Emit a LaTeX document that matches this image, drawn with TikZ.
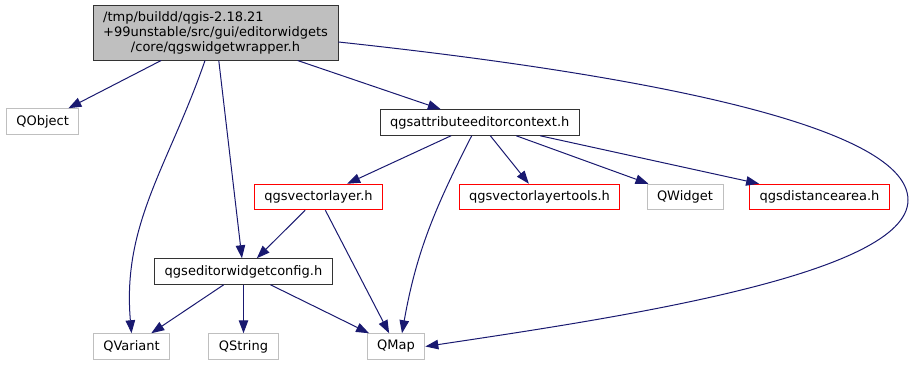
\documentclass[tikz,border=0pt]{standalone}
\usepackage{fontspec}
\setmainfont{DejaVu Sans}
\usepackage{xcolor}
\usetikzlibrary{arrows.meta}

\definecolor{edgeblue}{HTML}{191970}
\definecolor{boxgray}{HTML}{BFBFBF}
\definecolor{boxred}{HTML}{FF0000}

\begin{document}
\begin{tikzpicture}[x=1pt, y=1pt,
        font=\fontsize{13}{15}\selectfont,
        file/.style={rectangle, line width=1pt, inner xsep=10pt, inner ysep=3pt, minimum height=25.5pt},
        known/.style={file, draw=black!80},
        missing/.style={file, draw=boxred},
        external/.style={file, draw=boxgray},
        dep/.style={->, draw=edgeblue, line width=1pt},
        >={Triangle[length=13pt, width=9.5pt]}]
    \useasboundingbox (0, 0) rectangle (915, -365);

    % the header the graph starts from
    \node[file, draw=black!80, fill=boxgray, align=center, minimum width=245pt, minimum height=55pt]
        (wrapper) at (215.5, -32.5)
        {\rlap{/tmp/buildd/qgis-2.18.21}\phantom{+99unstable/src/gui/editorwidgets}\\
         +99unstable/src/gui/editorwidgets\\
         /core/qgswidgetwrapper.h};

    % second row
    \node[external] (qobject) at (42.7, -121.5) {QObject};
    \node[known] (ctx) at (479.7, -122.5) {qgsattributeeditorcontext.h};

    % third row
    \node[missing] (vlayer) at (318.5, -197) {qgsvectorlayer.h};
    \node[missing] (vltools) at (539.5, -197) {qgsvectorlayertools.h};
    \node[external] (qwidget) at (685, -197) {QWidget};
    \node[missing] (distarea) at (819.5, -197) {qgsdistancearea.h};

    % fourth row
    \node[known] (ewconfig) at (243.5, -271.5) {qgseditorwidgetconfig.h};

    % bottom row
    \node[external] (qvariant) at (131.5, -346.5) {QVariant};
    \node[external] (qstring) at (243.5, -346.5) {QString};
    \node[external] (qmap) at (396, -346.5) {QMap};

    \coordinate (bend) at (908, -200);

    % includes of the wrapper header
    \draw[dep] (wrapper) -- (qobject);
    \draw[dep] (wrapper) -- (ctx);
    \draw[dep] (wrapper) -- (ewconfig);
    \draw[dep] ([xshift=-10.5pt]wrapper.south) to[out=-109, in=95] (qvariant.north);
    \draw[dep] ([yshift=-9.5pt]wrapper.east) .. controls (600, -70) and (908, -120) .. (bend)
        .. controls (908, -275) and (615, -318) .. (qmap.east);

    % includes of qgsattributeeditorcontext.h
    \draw[dep] (ctx) -- (vlayer);
    \draw[dep] (ctx) -- (vltools);
    \draw[dep] (ctx) -- (qwidget);
    \draw[dep] (ctx) -- (distarea);
    \draw[dep] ([xshift=-8pt]ctx.south) to[out=-117, in=80] ([xshift=6pt]qmap.north);

    % includes of qgsvectorlayer.h
    \draw[dep] (vlayer) -- (ewconfig);
    \draw[dep] (vlayer) -- (qmap);

    % includes of qgseditorwidgetconfig.h
    \draw[dep] (ewconfig) -- (qvariant);
    \draw[dep] (ewconfig) -- (qstring);
    \draw[dep] (ewconfig) -- (qmap);
\end{tikzpicture}
\end{document}
